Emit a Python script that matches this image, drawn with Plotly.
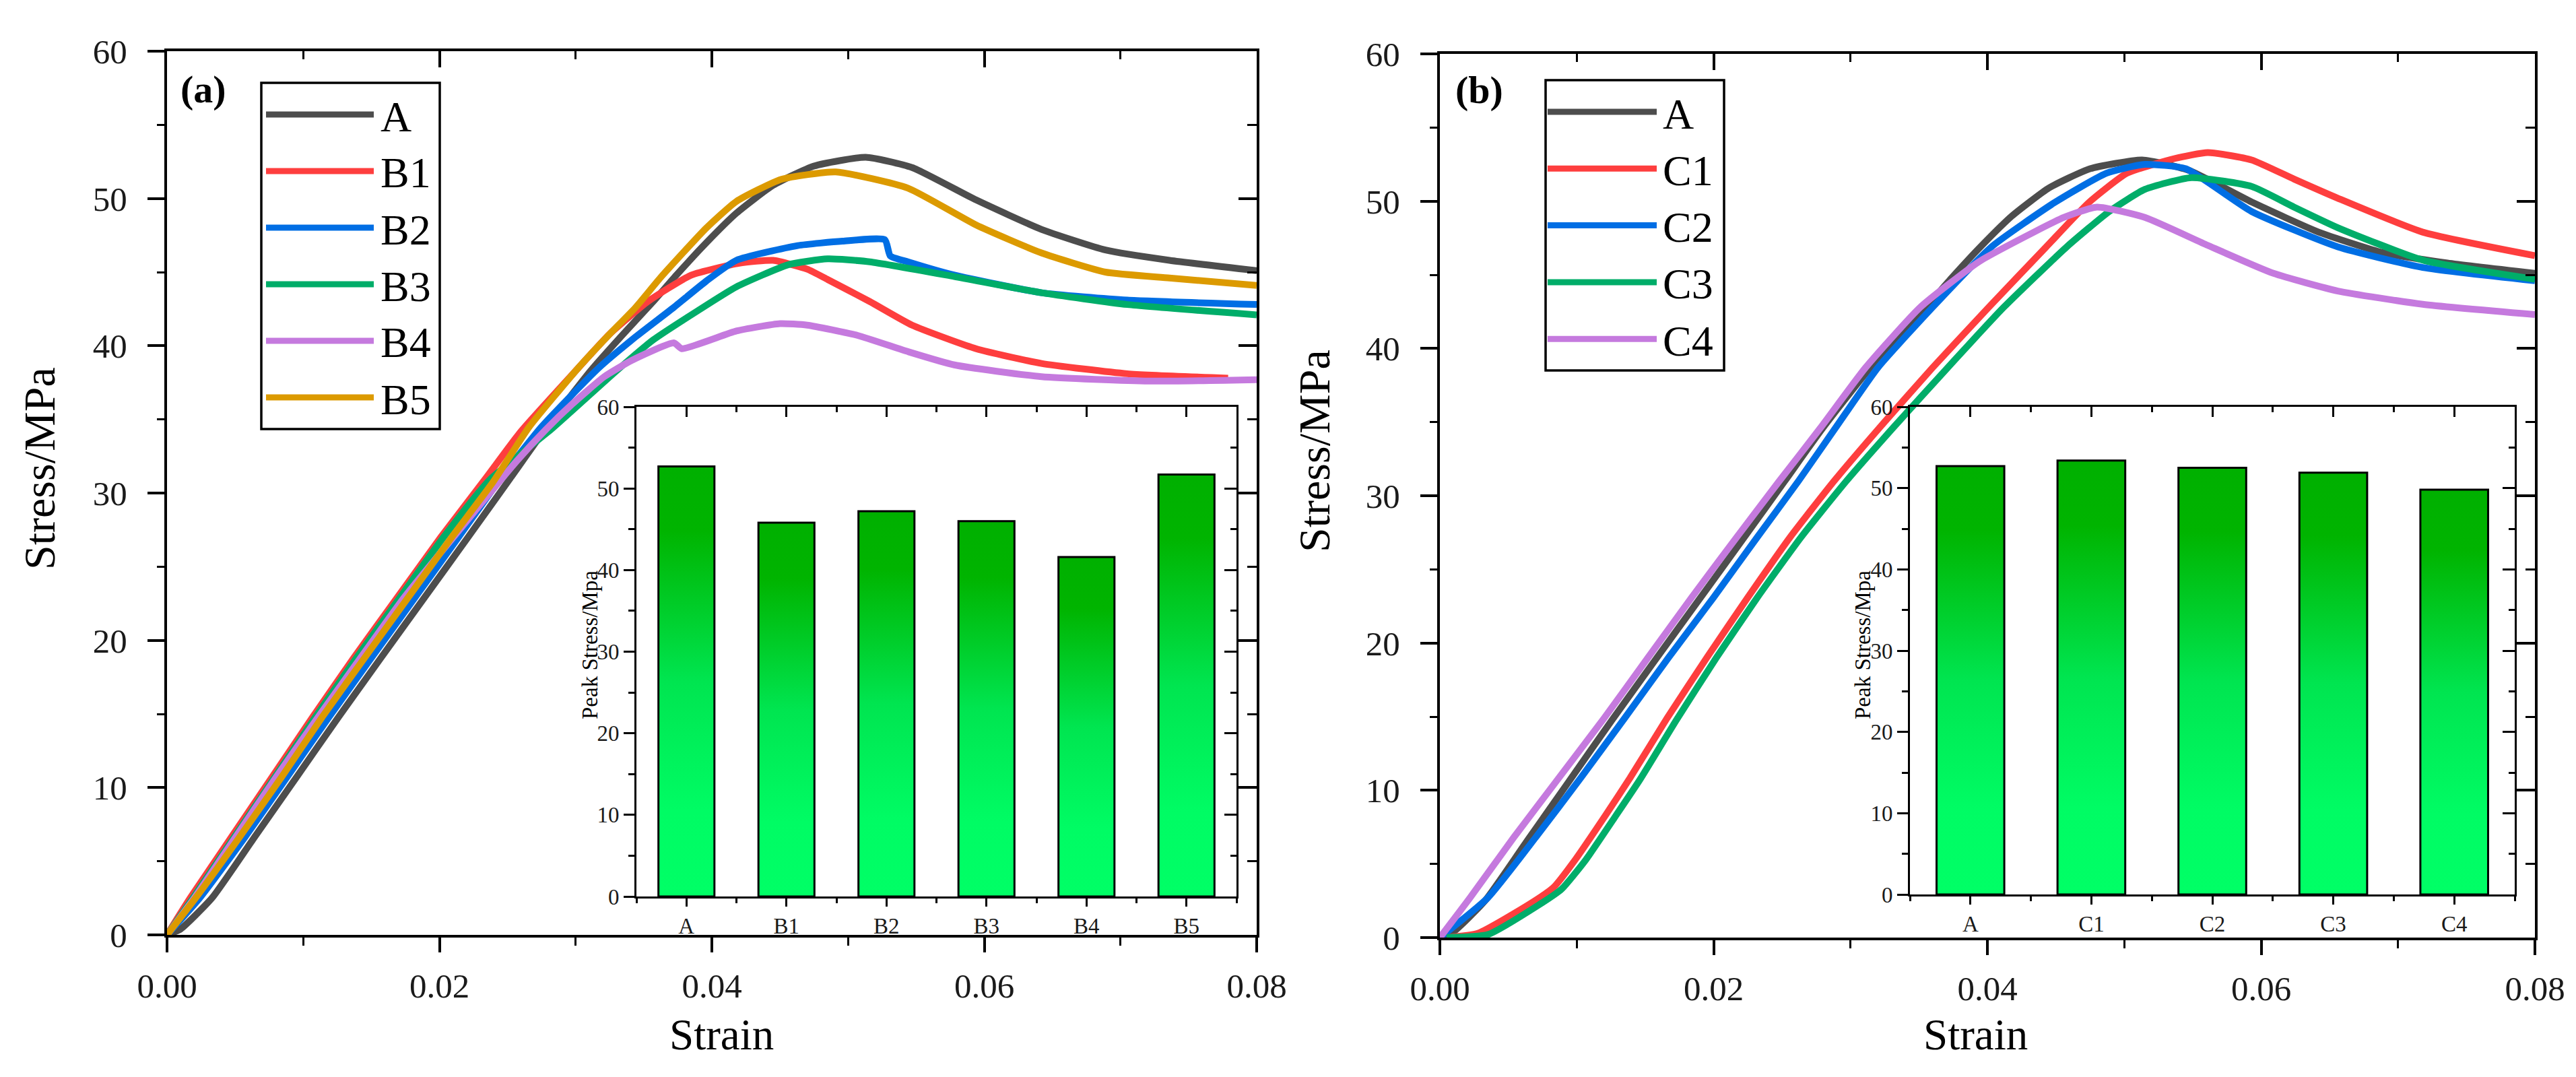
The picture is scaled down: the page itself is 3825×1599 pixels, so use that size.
import plotly.graph_objects as go

W, H = 3825, 1599
FONT = 'Liberation Serif'

# ---------- panel (a) stress-strain curves ----------
strain_A = [0, 0.001, 0.0033, 0.0064, 0.0095, 0.0126, 0.0157, 0.0189, 0.0221, 0.0252,
            0.0279, 0.0311, 0.0335, 0.0357, 0.0374, 0.0396, 0.0418, 0.0445, 0.0475, 0.0513,
            0.0547, 0.0594, 0.0642, 0.0689, 0.0736, 0.08]
stress_A = [0, 0.4, 2.5, 6.6, 10.7, 14.8, 18.8, 22.9, 27.0, 31.0,
            34.5, 38.3, 40.8, 43.0, 44.8, 47.0, 49.0, 50.9, 52.2, 52.8,
            52.1, 49.9, 47.9, 46.5, 45.8, 45.1]

strain_B1 = [0, 0.0017, 0.0047, 0.0077, 0.0107, 0.0137, 0.0169, 0.0201, 0.0234, 0.026,
             0.0302, 0.0325, 0.0353, 0.0385, 0.042, 0.0445, 0.047, 0.0485, 0.0516, 0.0547,
             0.0594, 0.0642, 0.0705, 0.0779]
stress_B1 = [0, 2.5, 6.6, 10.7, 14.8, 18.8, 22.9, 27.0, 31.0, 34.2,
             38.5, 40.8, 43.0, 44.8, 45.6, 45.8, 45.2, 44.5, 43.0, 41.4,
             39.8, 38.8, 38.1, 37.8]

strain_B2 = [0, 0.0024, 0.0057, 0.0088, 0.0119, 0.015, 0.0182, 0.0214, 0.0245, 0.0275,
             0.0317, 0.0344, 0.0372, 0.0396, 0.0418, 0.0463, 0.0496, 0.0527, 0.0531, 0.0544,
             0.0578, 0.0642, 0.0705, 0.08]
stress_B2 = [0, 2.5, 6.6, 10.7, 14.8, 18.8, 22.9, 27.0, 31.0, 34.5,
             38.5, 40.6, 42.6, 44.4, 45.8, 46.8, 47.1, 47.2, 46.1, 45.7,
             44.8, 43.6, 43.1, 42.8]

strain_B3 = [0, 0.0019, 0.0049, 0.0079, 0.0109, 0.0139, 0.0171, 0.0203, 0.0237, 0.0283,
             0.033, 0.0357, 0.039, 0.0418, 0.0456, 0.0485, 0.0516, 0.0578, 0.0642, 0.0705, 0.08]
stress_B3 = [0, 2.5, 6.6, 10.7, 14.8, 18.8, 22.9, 27.0, 30.9, 34.4,
             38.3, 40.4, 42.4, 44.0, 45.5, 45.9, 45.7, 44.7, 43.6, 42.8, 42.1]

strain_B4 = [0, 0.002, 0.005, 0.008, 0.0111, 0.0142, 0.0174, 0.0204, 0.0257, 0.0278,
             0.0297, 0.0321, 0.0341, 0.0372, 0.0378, 0.0418, 0.045, 0.047, 0.0507, 0.0544,
             0.0578, 0.0642, 0.0721, 0.08]
stress_B4 = [0, 2.5, 6.6, 10.7, 14.8, 18.8, 22.9, 26.3, 32.2, 34.3,
             36.0, 37.9, 39.0, 40.2, 39.8, 41.0, 41.5, 41.4, 40.7, 39.6,
             38.7, 37.9, 37.6, 37.7]

strain_B5 = [0, 0.0021, 0.0053, 0.0084, 0.0114, 0.0145, 0.0177, 0.0209, 0.0239, 0.0266,
             0.0302, 0.0323, 0.0344, 0.0363, 0.0396, 0.0418, 0.0451, 0.0491, 0.0544, 0.0594,
             0.0642, 0.0689, 0.0736, 0.08]
stress_B5 = [0, 2.5, 6.6, 10.7, 14.8, 18.8, 22.9, 27.0, 30.7, 34.5,
             38.5, 40.6, 42.6, 44.7, 48.0, 49.8, 51.3, 51.8, 50.7, 48.2,
             46.3, 45.0, 44.6, 44.1]

# ---------- panel (b) stress-strain curves ----------
strain_C1 = [0.0005, 0.0028, 0.0066, 0.0083, 0.0099, 0.0121, 0.0139, 0.0166, 0.0195, 0.0225,
             0.0256, 0.0288, 0.0321, 0.036, 0.0401, 0.0443, 0.0474, 0.0502, 0.0537, 0.0561,
             0.0593, 0.0624, 0.0656, 0.0718, 0.08]
stress_C1 = [0, 0.3, 2.3, 3.4, 5.3, 8.3, 10.85, 14.9, 19.0, 23.1,
             27.2, 31.0, 34.6, 38.7, 42.8, 46.9, 49.9, 51.9, 52.9, 53.3,
             52.8, 51.5, 50.2, 47.9, 46.3]

strain_C2 = [0, 0.0035, 0.007, 0.0103, 0.0135, 0.0167, 0.02, 0.0232, 0.0262, 0.0289,
             0.032, 0.036, 0.0403, 0.0449, 0.0487, 0.0515, 0.0545, 0.0593, 0.0656, 0.0718, 0.08]
stress_C2 = [0, 2.7, 6.8, 10.85, 14.9, 19.0, 23.1, 27.2, 31.0, 34.6,
             38.7, 42.8, 46.9, 49.9, 51.9, 52.5, 52.2, 49.3, 46.9, 45.5, 44.6]

strain_C3 = [0.0005, 0.0035, 0.0072, 0.0089, 0.0106, 0.0128, 0.0146, 0.0173, 0.0202, 0.0232,
             0.0264, 0.0297, 0.0331, 0.0371, 0.0412, 0.0458, 0.0489, 0.0515, 0.0549, 0.0593,
             0.0624, 0.0656, 0.0718, 0.08]
stress_C3 = [0, 0.2, 2.2, 3.3, 5.2, 8.2, 10.7, 14.8, 19.0, 23.1,
             27.2, 31.0, 34.6, 38.7, 42.8, 46.9, 49.3, 50.8, 51.6, 51.0,
             49.6, 48.2, 46.0, 44.7]

strain_C4 = [0, 0.0022, 0.0054, 0.0087, 0.012, 0.0152, 0.0184, 0.0217, 0.0248, 0.0278,
             0.0311, 0.0351, 0.0394, 0.0434, 0.0456, 0.048, 0.0515, 0.0561, 0.0609, 0.0656,
             0.0718, 0.08]
stress_C4 = [0, 2.7, 6.8, 10.85, 14.9, 19.0, 23.1, 27.2, 31.0, 34.6,
             38.7, 42.8, 45.9, 47.9, 48.9, 49.6, 48.9, 47.0, 45.1, 43.9,
             43.0, 42.3]

# ---------- inset bars: peak stress ----------
peak_cats_a = ['A', 'B1', 'B2', 'B3', 'B4', 'B5']
peak_vals_a = [52.7, 45.8, 47.2, 46.0, 41.6, 51.7]
peak_cats_b = ['A', 'C1', 'C2', 'C3', 'C4']
peak_vals_b = [52.7, 53.4, 52.5, 51.9, 49.8]

names_a = ['A', 'B1', 'B2', 'B3', 'B4', 'B5']
colors_a = ['#4d4d4d', '#fe3e3e', '#006ee4', '#00ad69', '#c57ade', '#dc9a00']
curves_a = [(strain_A, stress_A), (strain_B1, stress_B1), (strain_B2, stress_B2),
            (strain_B3, stress_B3), (strain_B4, stress_B4), (strain_B5, stress_B5)]
names_b = ['A', 'C1', 'C2', 'C3', 'C4']
colors_b = ['#4d4d4d', '#fe3e3e', '#006ee4', '#00ad69', '#c57ade']
curves_b = [(strain_A, stress_A), (strain_C1, stress_C1), (strain_C2, stress_C2),
            (strain_C3, stress_C3), (strain_C4, stress_C4)]


def fx(p):
    return p / W


def fy(p):
    return 1 - p / H


def ref(axis, n):
    return axis if n == 1 else f'{axis}{n}'


def key(axis, n):
    return f'{axis}axis' if n == 1 else f'{axis}axis{n}'


fig = go.Figure()

# curves
for n, (names, colors, curves) in zip([1, 5], [(names_a, colors_a, curves_a),
                                             (names_b, colors_b, curves_b)]):
    for name, color, (x, y) in zip(names, colors, curves):
        fig.add_trace(go.Scatter(x=x, y=y, mode='lines', name=name,
                                 line=dict(color=color, width=10, shape='spline', smoothing=0.5),
                                 xaxis=ref('x', n), yaxis=ref('y', n), showlegend=False))

# inset bars (gradient filled)
bar_w = 0.56
for n, (cats, vals) in zip([3, 7], [(peak_cats_a, peak_vals_a), (peak_cats_b, peak_vals_b)]):
    for i, v in enumerate(vals):
        fig.add_trace(go.Scatter(
            x=[i - bar_w / 2, i - bar_w / 2, i + bar_w / 2, i + bar_w / 2, i - bar_w / 2],
            y=[0, v, v, 0, 0], mode='lines', fill='toself',
            fillgradient=dict(type='vertical', start=0, stop=v,
                              colorscale=[[0, '#00ff66'], [0.2, '#00fc64'], [0.5, '#00e550'],
                                          [0.85, '#00b400'], [1, '#00b000']]),
            line=dict(color='black', width=3), xaxis=ref('x', n), yaxis=ref('y', n),
            showlegend=False, hoverinfo='skip'))

# dummy traces so the mirror axes (top / right) exist
for n in [1, 3, 5, 7]:
    fig.add_trace(go.Scatter(x=[None], y=[None], xaxis=ref('x', n + 1), yaxis=ref('y', n),
                             showlegend=False, hoverinfo='skip'))
    fig.add_trace(go.Scatter(x=[None], y=[None], xaxis=ref('x', n), yaxis=ref('y', n + 1),
                             showlegend=False, hoverinfo='skip'))

tick_font = dict(family=FONT, size=51, color='#1a1a1a')
inset_font = dict(family=FONT, size=33, color='#1a1a1a')
layout = {}


def main_axes(n, xdom, ydom):
    common = dict(showgrid=False, zeroline=False, showline=True, linewidth=4,
                  linecolor='black', tickcolor='black', automargin=False)
    xr = [0, 0.08]
    yr = [0, 60]
    layout[key('x', n)] = dict(domain=xdom, range=xr, anchor=ref('y', n), tickmode='linear',
                               tick0=0, dtick=0.02, tickformat='.2f', ticks='outside',
                               ticklen=22, tickwidth=3.5, tickfont=tick_font,
                               ticklabelstandoff=6,
                               minor=dict(ticks='outside', ticklen=12, tickwidth=3,
                                          tickcolor='black', tick0=0, dtick=0.01), **common)
    layout[key('x', n + 1)] = dict(overlaying=ref('x', n), anchor=ref('y', n), side='top',
                                   range=xr, tickmode='linear', tick0=0, dtick=0.02,
                                   ticks='inside', ticklen=24, tickwidth=3.5,
                                   showticklabels=False,
                                   minor=dict(ticks='inside', ticklen=12, tickwidth=3,
                                              tickcolor='black', tick0=0, dtick=0.01), **common)
    layout[key('y', n)] = dict(domain=ydom, range=yr, anchor=ref('x', n), tickmode='linear',
                               tick0=0, dtick=10, ticks='outside', ticklen=25, tickwidth=3.5,
                               tickfont=tick_font, ticklabelstandoff=20,
                               minor=dict(ticks='outside', ticklen=11, tickwidth=3,
                                          tickcolor='black', tick0=0, dtick=5), **common)
    layout[key('y', n + 1)] = dict(overlaying=ref('y', n), anchor=ref('x', n), side='right',
                                   range=yr, tickmode='linear', tick0=0, dtick=10,
                                   ticks='inside', ticklen=27, tickwidth=3.5,
                                   showticklabels=False,
                                   minor=dict(ticks='inside', ticklen=14, tickwidth=3,
                                              tickcolor='black', tick0=0, dtick=5), **common)


def inset_axes(n, xdom, ydom, cats):
    common = dict(showgrid=False, zeroline=False, showline=True, linewidth=3,
                  linecolor='black', tickcolor='black', automargin=False)
    xr = [-0.5, len(cats) - 0.5]
    yr = [0, 60]
    centers = list(range(len(cats)))
    edges = [k - 0.5 for k in range(len(cats) + 1)]
    layout[key('x', n)] = dict(domain=xdom, range=xr, anchor=ref('y', n), tickmode='array',
                               tickvals=centers, ticktext=cats, ticks='outside', ticklen=12,
                               tickwidth=3, tickfont=inset_font,
                               minor=dict(ticks='outside', ticklen=7, tickwidth=2.5,
                                          tickcolor='black', tickmode='array', tickvals=edges),
                               **common)
    layout[key('x', n + 1)] = dict(overlaying=ref('x', n), anchor=ref('y', n), side='top',
                                   range=xr, tickmode='array', tickvals=centers,
                                   ticks='inside', ticklen=15, tickwidth=3,
                                   showticklabels=False,
                                   minor=dict(ticks='inside', ticklen=8, tickwidth=2.5,
                                              tickcolor='black', tickmode='array',
                                              tickvals=edges), **common)
    layout[key('y', n)] = dict(domain=ydom, range=yr, anchor=ref('x', n), tickmode='linear',
                               tick0=0, dtick=10, ticks='outside', ticklen=16, tickwidth=3,
                               tickfont=inset_font,
                               minor=dict(ticks='outside', ticklen=9, tickwidth=2.5,
                                          tickcolor='black', tick0=0, dtick=5), **common)
    layout[key('y', n + 1)] = dict(overlaying=ref('y', n), anchor=ref('x', n), side='right',
                                   range=yr, tickmode='linear', tick0=0, dtick=10,
                                   ticks='inside', ticklen=18, tickwidth=3,
                                   showticklabels=False,
                                   minor=dict(ticks='inside', ticklen=9, tickwidth=2.5,
                                              tickcolor='black', tick0=0, dtick=5), **common)


main_axes(1, [fx(240), fx(1858)], [fy(1380), fy(68)])
inset_axes(3, [fx(937), fx(1828)], [fy(1323), fy(596)], peak_cats_a)
main_axes(5, [fx(2130), fx(3756)], [fy(1384), fy(72)])
inset_axes(7, [fx(2828), fx(3726)], [fy(1320), fy(596)], peak_cats_b)

shapes = []
annotations = []


def legend_box(box, line_x, text_x, y0, step, names, colors):
    shapes.append(dict(type='rect', xref='paper', yref='paper',
                       x0=fx(box[0]), x1=fx(box[2]), y0=fy(box[3]), y1=fy(box[1]),
                       line=dict(color='black', width=3.5), fillcolor='rgba(0,0,0,0)'))
    for i, (name, color) in enumerate(zip(names, colors)):
        yy = y0 + i * step
        shapes.append(dict(type='line', xref='paper', yref='paper',
                           x0=fx(line_x[0]), x1=fx(line_x[1]), y0=fy(yy), y1=fy(yy),
                           line=dict(color=color, width=9)))
        annotations.append(dict(text=name, xref='paper', yref='paper', x=fx(text_x),
                                y=fy(yy + 3), xanchor='left', yanchor='middle',
                                showarrow=False,
                                font=dict(family=FONT, size=64, color='black')))


legend_box((380, 115, 645, 629), (387, 547), 555, 162, 84, names_a, colors_a)
legend_box((2287, 111, 2552, 542), (2290, 2452), 2459, 158, 84.3, names_b, colors_b)


def text(t, x, y, size, angle=0, bold=False):
    annotations.append(dict(text=f'<b>{t}</b>' if bold else t, xref='paper', yref='paper',
                            x=fx(x), y=fy(y), xanchor='center', yanchor='middle',
                            showarrow=False, textangle=angle,
                            font=dict(family=FONT, size=size, color='black')))


text('(a)', 294, 124, 58, bold=True)
text('(b)', 2188, 125, 58, bold=True)
text('Stress/MPa', 50, 688, 66, angle=-90)
text('Stress/MPa', 1943, 662, 66, angle=-90)
text('Strain', 1063, 1528, 65)
text('Strain', 2925, 1528, 65)
text('Peak Stress/Mpa', 868, 950, 33, angle=-90)
text('Peak Stress/Mpa', 2758, 950, 33, angle=-90)

fig.update_layout(width=W, height=H, margin=dict(l=0, r=0, t=0, b=0),
                  paper_bgcolor='white', plot_bgcolor='rgba(0,0,0,0)',
                  showlegend=False, shapes=shapes, annotations=annotations, **layout)

fig.write_html("out.html")
